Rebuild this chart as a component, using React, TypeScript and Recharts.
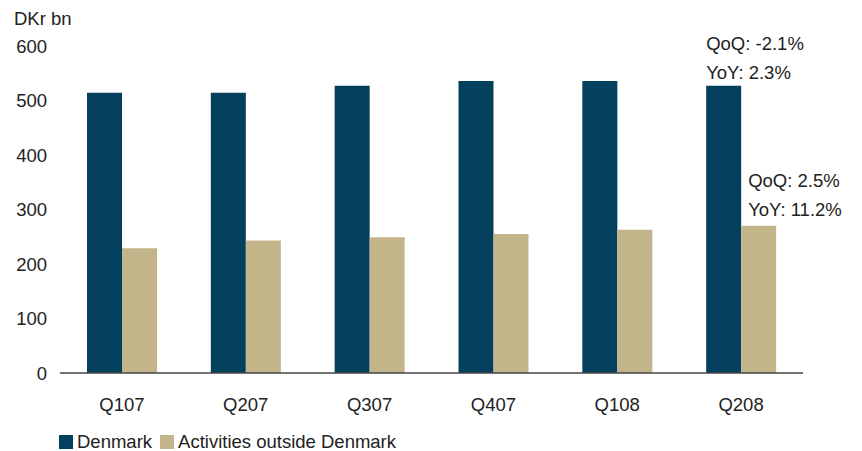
import { Bar, BarChart, LabelList, XAxis, YAxis } from 'recharts'

const quarters = ['Q107', 'Q207', 'Q307', 'Q407', 'Q108', 'Q208']
const denmark = [514, 514, 527, 536, 536, 527]
const outside = [229, 243, 249, 255, 263, 270]
const yTicks = [0, 100, 200, 300, 400, 500, 600]
const seriesNames = ['Denmark', 'Activities outside Denmark']
const denmarkNotes = ['QoQ: -2.1%', 'YoY: 2.3%']
const outsideNotes = ['QoQ: 2.5%', 'YoY: 11.2%']

const NAVY = '#03405E'
const SAND = '#C4B48A'
const INK = '#222'
const FONT = '"Liberation Sans", Arial, sans-serif'

const data = quarters.map((q, i) => ({ quarter: q, denmark: denmark[i], outside: outside[i] }))

// QoQ / YoY note stacked above the latest bar only
const noteLabel = (notes: string[], dx: number, lift: number) => (props: any) => {
  const { x, y, index } = props
  if (index !== data.length - 1) return null
  return (
    <g>
      {notes.map((t, i) => (
        <text
          key={t}
          x={Number(x) + dx}
          y={Number(y) - lift + i * 29}
          dy="0.35em"
          fill={INK}
          fontSize={18.5}
          fontFamily={FONT}
        >
          {t}
        </text>
      ))}
    </g>
  )
}

export default function App() {
  return (
    <div style={{ position: 'relative', width: 862, height: 451, margin: '-8px 0 0 -8px', background: '#fff', fontFamily: FONT }}>
      <div style={{ position: 'absolute', left: 14, top: 9, fontSize: 18.5, lineHeight: '20px', color: INK }}>DKr bn</div>
      <BarChart
        width={862}
        height={451}
        data={data}
        margin={{ top: 46, right: 59, bottom: 48, left: 0 }}
        barGap={0}
        barSize={35}
      >
        <XAxis
          dataKey="quarter"
          height={30}
          axisLine={{ stroke: '#444', strokeWidth: 1.5 }}
          tickLine={false}
          tickSize={0}
          tickMargin={25}
          tick={{ fill: INK, fontSize: 18.5, fontFamily: FONT }}
        />
        <YAxis
          width={60}
          domain={[0, 600]}
          ticks={yTicks}
          axisLine={false}
          tickLine={false}
          tickSize={0}
          tickMargin={13}
          tick={{ fill: INK, fontSize: 18.5, fontFamily: FONT }}
        />
        <Bar dataKey="denmark" name={seriesNames[0]} fill={NAVY} isAnimationActive={false}>
          <LabelList dataKey="denmark" content={noteLabel(denmarkNotes, 0, 42)} />
        </Bar>
        <Bar dataKey="outside" name={seriesNames[1]} fill={SAND} isAnimationActive={false}>
          <LabelList dataKey="outside" content={noteLabel(outsideNotes, 7, 45)} />
        </Bar>
      </BarChart>
      <div style={{ position: 'absolute', left: 59, top: 431, display: 'flex', alignItems: 'center', fontSize: 18.5, lineHeight: '22px', color: INK }}>
        {seriesNames.map((n, i) => (
          <span key={n} style={{ display: 'flex', alignItems: 'center', marginRight: 8 }}>
            <span style={{ width: 14, height: 14, background: i === 0 ? NAVY : SAND, marginRight: 4 }} />
            {n}
          </span>
        ))}
      </div>
    </div>
  )
}
